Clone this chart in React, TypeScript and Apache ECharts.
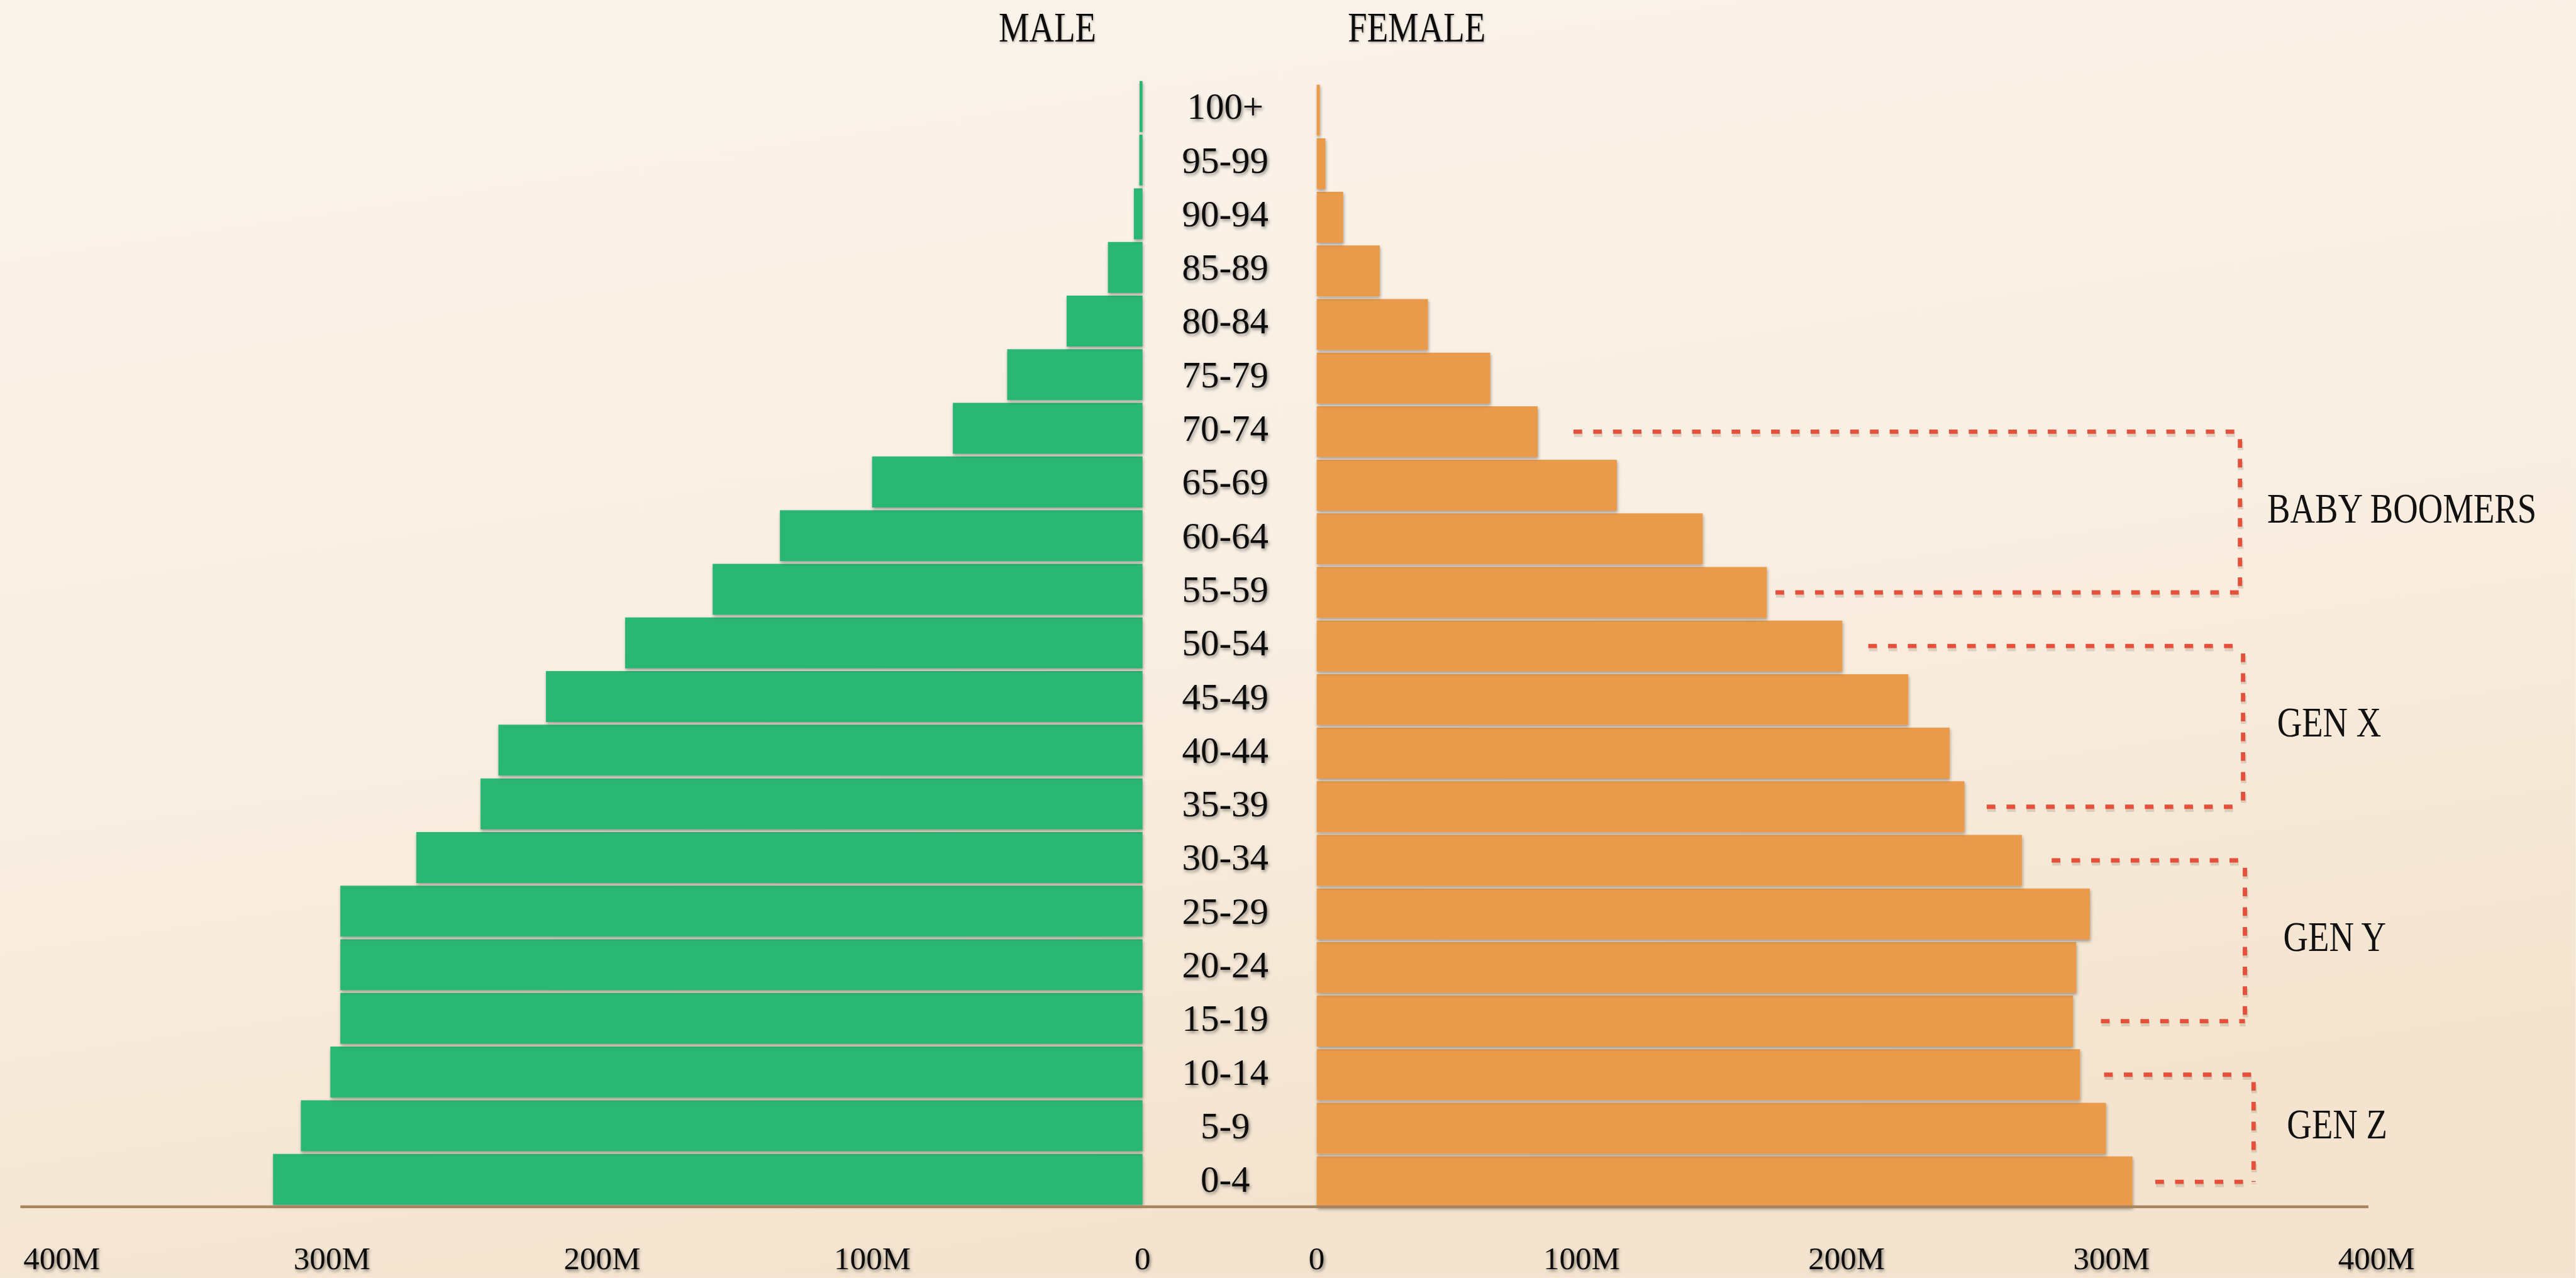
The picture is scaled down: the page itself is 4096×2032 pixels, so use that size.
import React, { useEffect, useRef } from 'react';
import * as echarts from 'echarts';

// ---------- data ----------
const ageGroups = ['0-4', '5-9', '10-14', '15-19', '20-24', '25-29', '30-34', '35-39', '40-44', '45-49', '50-54', '55-59', '60-64', '65-69', '70-74', '75-79', '80-84', '85-89', '90-94', '95-99', '100+'];
const maleValues = [321.8, 311.5, 300.6, 296.9, 296.9, 296.9, 268.8, 245.0, 238.4, 220.8, 191.5, 159.1, 134.2, 100.1, 70.2, 50.1, 28.1, 12.8, 3.2, 1.2, 1.1];
const femaleValues = [307.9, 297.9, 288.1, 285.5, 286.7, 291.8, 266.2, 244.5, 238.9, 223.3, 198.4, 169.9, 145.7, 113.3, 83.4, 65.5, 42.0, 23.8, 10.0, 3.3, 1.2];
const tickLabels = ['0', '100M', '200M', '300M', '400M'];
const sideTitles = ['MALE', 'FEMALE'];
const generations = ['BABY BOOMERS', 'GEN X', 'GEN Y', 'GEN Z'];
const generationFrom = ['70-74', '50-54', '30-34', '10-14'];
const generationTo = ['55-59', '35-39', '15-19', '0-4'];

// ---------- layout / style (reference pixels) ----------
const K = 0.982;
const s = (v: number) => v * K;
const FONT = "'Liberation Serif', 'DejaVu Serif', serif";
const GREEN = '#2bb673';
const ORANGE = '#e99b4c';
const RED = '#e4503a';
const titleX = [1696, 2294];
const bracketX = [3627, 3632, 3635, 3649];
const bracketGapTop = [58, 42, 48, 39];
const bracketGapBottom = [14, 36, 45, 37];
const labelX = [3671, 3687, 3697, 3703];

export default function App() {
  const ref = useRef<HTMLDivElement>(null);
  useEffect(() => {
    const chart = echarts.init(ref.current!, null, { renderer: 'svg' });
    const barShadow = {
      shadowColor: 'rgba(0,0,0,0.35)',
      shadowBlur: s(5),
      shadowOffsetX: s(1),
      shadowOffsetY: s(3),
    };
    const labelShadow = {
      textShadowColor: 'rgba(0,0,0,0.45)',
      textShadowBlur: s(5),
      textShadowOffsetX: s(2),
      textShadowOffsetY: s(3),
    };
    const option: any = {
      animation: false,
      backgroundColor: '#f9efe3',
      grid: [
        { left: s(100), top: s(129), width: s(1750), height: s(1824), containLabel: false },
        { left: s(2132), top: s(135), width: s(1716), height: s(1822), containLabel: false },
      ],
      xAxis: [
        {
          gridIndex: 0, type: 'value', min: 0, max: 400, interval: 100, inverse: true,
          axisLine: { show: false }, axisTick: { show: false }, splitLine: { show: false },
          axisLabel: {
            formatter: (v: number) => tickLabels[Math.round(v / 100)],
            margin: s(84), verticalAlign: 'middle', fontFamily: FONT, fontSize: s(52),
            color: '#111', showMinLabel: true, showMaxLabel: true, ...labelShadow,
          },
        },
        {
          gridIndex: 1, type: 'value', min: 0, max: 400, interval: 100,
          axisLine: { show: false }, axisTick: { show: false }, splitLine: { show: false },
          axisLabel: {
            formatter: (v: number) => tickLabels[Math.round(v / 100)],
            margin: s(80), verticalAlign: 'middle', fontFamily: FONT, fontSize: s(52),
            color: '#111', showMinLabel: true, showMaxLabel: true, ...labelShadow,
          },
        },
      ],
      yAxis: [
        {
          gridIndex: 0, type: 'category', data: ageGroups, position: 'right',
          axisLine: { show: false }, axisTick: { show: false }, splitLine: { show: false },
          axisLabel: {
            margin: s(134), align: 'center', fontFamily: FONT, fontSize: s(60),
            color: '#111', interval: 0, ...labelShadow,
          },
        },
        {
          gridIndex: 1, type: 'category', data: ageGroups,
          axisLine: { show: false }, axisTick: { show: false }, splitLine: { show: false },
          axisLabel: { show: false },
        },
      ],
      series: [
        {
          name: 'Male', type: 'bar', xAxisIndex: 0, yAxisIndex: 0, data: maleValues,
          barCategoryGap: '5%', itemStyle: { color: GREEN, ...barShadow },
        },
        {
          name: 'Female', type: 'bar', xAxisIndex: 1, yAxisIndex: 1, data: femaleValues,
          barCategoryGap: '5%', itemStyle: { color: ORANGE, ...barShadow },
        },
      ],
    };
    chart.setOption(option);

    const graphics: any[] = [];
    // paper background
    graphics.push({
      type: 'rect', z: -10, silent: true,
      shape: { x: 0, y: 0, width: s(4170), height: s(2069) },
      style: {
        fill: new echarts.graphic.LinearGradient(0, 0, 0.3, 1, [
          { offset: 0, color: '#fbf4eb' },
          { offset: 0.55, color: '#f9efe3' },
          { offset: 1, color: '#f4e4cf' },
        ]),
      },
    });
    // baseline
    graphics.push({
      type: 'line', z: 20, silent: true,
      shape: { x1: s(33), y1: s(1954), x2: s(3835), y2: s(1954) },
      style: { stroke: '#a8855f', lineWidth: s(4.5) },
    });
    // side titles
    sideTitles.forEach((t, i) => {
      graphics.push({
        type: 'text', z: 20, x: s(titleX[i]), y: s(44), scaleX: 0.82,
        style: {
          text: t, fontFamily: FONT, fontSize: s(68), fill: '#111',
          textAlign: 'center', textVerticalAlign: 'middle', align: 'center', verticalAlign: 'middle',
          textShadowColor: 'rgba(0,0,0,0.3)', textShadowBlur: s(3), textShadowOffsetX: s(1), textShadowOffsetY: s(2),
        },
      });
    });
    // generation brackets (dashed red, with a faint offset copy as shadow)
    const dash = [s(14), s(18)];
    const addSeg = (x1: number, y1: number, x2: number, y2: number) => {
      graphics.push({
        type: 'line', z: 19, silent: true,
        shape: { x1: x1 + s(1), y1: y1 + s(4), x2: x2 + s(1), y2: y2 + s(4) },
        style: { stroke: 'rgba(90,60,40,0.16)', lineWidth: s(9), lineDash: dash },
      });
      graphics.push({
        type: 'line', z: 20, silent: true,
        shape: { x1, y1, x2, y2 },
        style: { stroke: RED, lineWidth: s(7), lineDash: dash },
      });
    };
    generations.forEach((g, i) => {
      const iFrom = ageGroups.indexOf(generationFrom[i]);
      const iTo = ageGroups.indexOf(generationTo[i]);
      const yTop = chart.convertToPixel({ yAxisIndex: 1 }, iFrom) as number;
      const yBot = chart.convertToPixel({ yAxisIndex: 1 }, iTo) as number;
      const xTopBar = chart.convertToPixel({ xAxisIndex: 1 }, femaleValues[iFrom]) as number;
      const xBotBar = chart.convertToPixel({ xAxisIndex: 1 }, femaleValues[iTo]) as number;
      const bx = s(bracketX[i]);
      addSeg(xTopBar + s(bracketGapTop[i]), yTop, bx, yTop);
      addSeg(bx, yTop + s(12), bx, yBot);
      addSeg(xBotBar + s(bracketGapBottom[i]), yBot, bx, yBot);
      graphics.push({
        type: 'text', z: 20, x: s(labelX[i]), y: (yTop + yBot) / 2 - s(6), scaleX: 0.82,
        style: {
          text: g, fontFamily: FONT, fontSize: s(68), fill: '#111',
          textAlign: 'left', textVerticalAlign: 'middle', align: 'left', verticalAlign: 'middle',
        },
      });
    });
    chart.setOption({ graphic: graphics });

    return () => chart.dispose();
  }, []);
  return <div ref={ref} style={{ position: 'fixed', left: 0, top: 0, width: 4096, height: 2032 }} />;
}
